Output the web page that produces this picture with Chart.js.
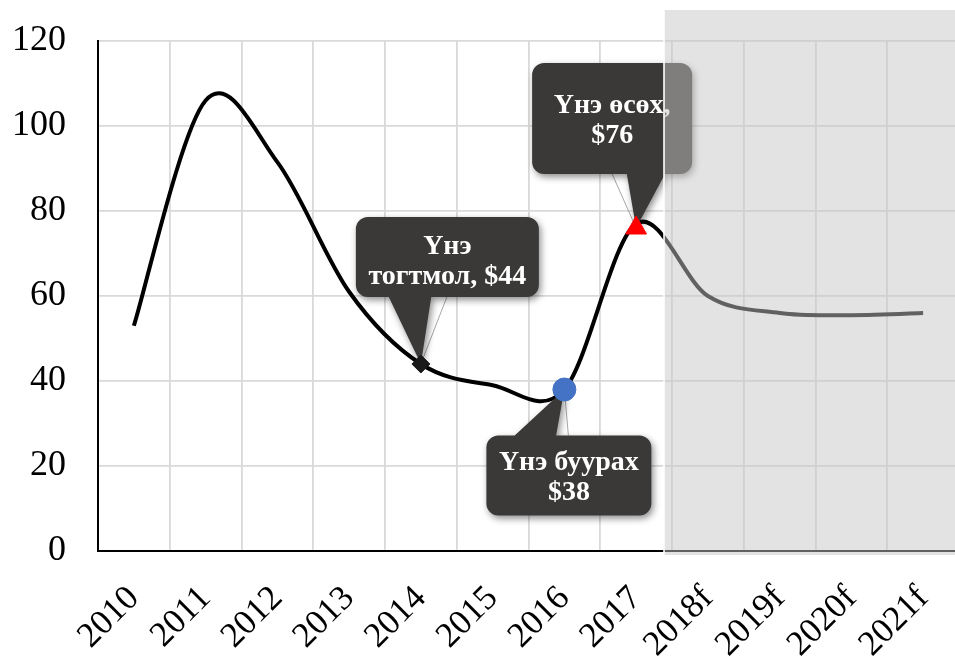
<!DOCTYPE html>
<html>
<head>
<meta charset="utf-8">
<script src="https://cdn.jsdelivr.net/npm/chart.js@4.4.1/dist/chart.umd.min.js"></script>
<style>
  html, body { margin: 0; padding: 0; background: #fff; overflow: hidden; }
  #wrap { width: 960px; height: 659px; }
</style>
</head>
<body>
<div id="wrap"><canvas id="price-chart"></canvas></div>
<script>
// Data

const years = ["2010", "2011", "2012", "2013", "2014", "2015", "2016", "2017", "2018f", "2019f", "2020f", "2021f"];
const price = [53, 106, 91.5, 61, 44, 39, 38, 77, 60, 56, 55.5, 56];
const markerValues = [null, null, null, null, 44, null, 38, 76, null, null, null, null];
const markerStyles = ["circle", "circle", "circle", "circle", "rectRot", "circle", "circle", "triangle", "circle", "circle", "circle", "circle"];
const markerColors = ["#000", "#000", "#000", "#000", "#1a1a1a", "#000", "#4472c4", "#ff0000", "#000", "#000", "#000", "#000"];
const markerSizes = [0, 0, 0, 0, 9, 0, 11.5, 12, 0, 0, 0, 0];
const calloutText = {
  4: ["Үнэ", "тогтмол, $44"],
  6: ["Үнэ буурах", "$38"],
  7: ["Үнэ өсөх,", "$76"],
};
const forecastFrom = 7; // shaded area starts after 2017

// callout box placement relative to the marker (pixels)
const calloutBoxes = {
  4: { dx: -65, dy: -147, w: 183, h: 80, base: [-34, 11], leader: 26, ty: 5 },
  6: { dx: -78, dy: 46, w: 165, h: 80, base: [-54, -9], leader: 4, ty: 2 },
  7: { dx: -104, dy: -165, w: 160, h: 111, base: [-10, 31], leader: -24, ty: 2 },
};

const serif = "'Liberation Serif', 'Times New Roman', serif";

// Excel-like smoothing: uniform Catmull-Rom control points
const smoothLine = {
  id: "smoothLine",
  beforeDatasetDraw(chart, args) {
    if (args.index !== 1) return;
    const meta = args.meta;
    const pts = meta.data;
    meta.dataset.updateControlPoints(chart.chartArea, "x");
    pts.forEach((p, i) => {
      const prev = pts[i - 1] || p;
      const next = pts[i + 1] || p;
      const dx = (next.x - prev.x) / 6;
      const dy = (next.y - prev.y) / 6;
      p.cp1x = p.x - dx;
      p.cp1y = p.y - dy;
      p.cp2x = p.x + dx;
      p.cp2y = p.y + dy;
    });
    meta.dataset._path = undefined;
  },
};

const callouts = {
  id: "callouts",
  afterDatasetDraw(chart, args) {
    if (args.index !== 1) return;
    const ctx = chart.ctx;
    const meta = chart.getDatasetMeta(0);
    Object.keys(calloutText).forEach((k) => {
      const i = +k;
      const pt = meta.data[i];
      const b = calloutBoxes[i];
      const x0 = pt.x + b.dx;
      const y0 = pt.y + b.dy;
      const below = b.dy > 0;
      const baseY = below ? y0 : y0 + b.h;
      const inset = below ? 4 : -4;
      ctx.save();
      // leader line
      ctx.strokeStyle = "#a6a6a6";
      ctx.lineWidth = 1;
      ctx.beginPath();
      ctx.moveTo(pt.x + b.leader, baseY);
      ctx.lineTo(pt.x, pt.y);
      ctx.stroke();
      // box + pointer
      ctx.shadowColor = "rgba(0,0,0,0.45)";
      ctx.shadowBlur = 7;
      ctx.shadowOffsetX = 2;
      ctx.shadowOffsetY = 3;
      ctx.fillStyle = "#3b3938";
      ctx.beginPath();
      ctx.roundRect(x0, y0, b.w, b.h, 12);
      if (below) {
        ctx.moveTo(pt.x, pt.y);
        ctx.lineTo(pt.x + b.base[1], baseY + inset);
        ctx.lineTo(pt.x + b.base[0], baseY + inset);
      } else {
        ctx.moveTo(pt.x + b.base[0], baseY + inset);
        ctx.lineTo(pt.x + b.base[1], baseY + inset);
        ctx.lineTo(pt.x, pt.y);
      }
      ctx.closePath();
      ctx.fill();
      // text
      ctx.shadowColor = "transparent";
      ctx.fillStyle = "#fff";
      ctx.font = "bold 28px " + serif;
      ctx.textAlign = "center";
      ctx.textBaseline = "middle";
      const lines = calloutText[i];
      const lh = 30;
      const cy = y0 + b.h / 2 + b.ty - ((lines.length - 1) * lh) / 2;
      lines.forEach((t, j) => ctx.fillText(t, x0 + b.w / 2, cy + j * lh));
      ctx.restore();
    });
  },
  afterDraw(chart) {
    const ctx = chart.ctx;
    const xs = chart.scales.x;
    const area = chart.chartArea;
    const left = (xs.getPixelForValue(forecastFrom) + xs.getPixelForValue(forecastFrom + 1)) / 2 - 8;
    const top = area.top - 31;
    const bottom = area.bottom + 4;
    ctx.save();
    ctx.fillStyle = "rgba(197,197,197,0.49)";
    ctx.fillRect(left, top, chart.width - left, bottom - top);
    ctx.strokeStyle = "rgba(255,255,255,0.8)";
    ctx.lineWidth = 2;
    ctx.beginPath();
    ctx.moveTo(left, top);
    ctx.lineTo(left, bottom);
    ctx.stroke();
    ctx.restore();
  },
};

const ctx = document.getElementById("price-chart");

new Chart(ctx, {
  type: "line",
  data: {
    labels: years,
    datasets: [
      {
        label: "markers",
        data: markerValues,
        showLine: false,
        pointStyle: (c) => markerStyles[c.dataIndex],
        pointRadius: (c) => markerSizes[c.dataIndex],
        pointBackgroundColor: (c) => markerColors[c.dataIndex],
        pointBorderColor: (c) => markerColors[c.dataIndex],
        pointBorderWidth: 1,
      },
      {
        label: "price",
        data: price,
        borderColor: "#000",
        borderWidth: 4,
        tension: 0.4,
        capBezierPoints: false,
        pointRadius: 0,
        fill: false,
      },
    ],
  },
  options: {
    responsive: true,
    maintainAspectRatio: false,
    animation: false,
    events: [],
    layout: { padding: { top: 41, left: 0, right: 1, bottom: 0 } },
    plugins: {
      legend: { display: false },
      tooltip: { enabled: false },
    },
    scales: {
      x: {
        offset: true,
        grid: { color: "#d9d9d9", lineWidth: 1.8, offset: true, drawTicks: false },
        border: { color: "#000", width: 2 },
        ticks: {
          color: "#000",
          font: { family: serif, size: 35 },
          maxRotation: 45,
          minRotation: 45,
          autoSkip: false,
          padding: 27,
        },
        afterFit: (s) => {
          s.height = 108;
          s.paddingLeft = 0;
          s.paddingRight = 0;
        },
      },
      y: {
        min: 0,
        max: 120,
        grid: { color: "#d9d9d9", lineWidth: 1.8, drawTicks: false },
        border: { color: "#000", width: 2 },
        ticks: {
          stepSize: 20,
          color: "#000",
          font: { family: serif, size: 36 },
          padding: 32,
        },
        afterFit: (s) => {
          s.width = 98;
          s.paddingTop = 0;
          s.paddingBottom = 0;
        },
      },
    },
  },
  plugins: [smoothLine, callouts],
});
</script>
</body>
</html>
